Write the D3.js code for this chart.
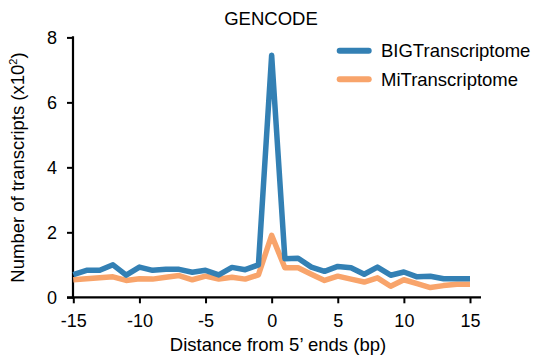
<!DOCTYPE html>
<html><head><meta charset="utf-8">
<script src="https://cdn.jsdelivr.net/npm/d3@7"></script>
<style>body{margin:0;background:#fff}svg{display:block;font-family:"Liberation Sans",Arial,sans-serif}</style>
</head><body><svg id="c" width="533" height="358"></svg>
<script>
const positions = [-15,-14,-13,-12,-11,-10,-9,-8,-7,-6,-5,-4,-3,-2,-1,0,1,2,3,4,5,6,7,8,9,10,11,12,13,14,15];
const bigValues = [0.7,0.83,0.83,1.0,0.68,0.93,0.83,0.86,0.86,0.77,0.83,0.69,0.92,0.85,1.0,7.45,1.19,1.2,0.93,0.8,0.95,0.91,0.71,0.93,0.68,0.78,0.63,0.65,0.57,0.57,0.57];
const miValues = [0.54,0.57,0.6,0.63,0.52,0.57,0.56,0.62,0.67,0.54,0.65,0.56,0.62,0.56,0.69,1.91,0.91,0.91,0.71,0.52,0.65,0.56,0.47,0.6,0.34,0.54,0.42,0.3,0.36,0.4,0.4];
const seriesNames = ["BIGTranscriptome","MiTranscriptome"];
const colors = ["#3380b4","#f8a46b"];
const xTicks = [-15,-10,-5,0,5,10,15];
const yTicks = [0,2,4,6,8];

const FONT = "'Liberation Sans',Arial,sans-serif";
const svg = d3.select("#c");
const x = d3.scaleLinear().domain([-15,15]).range([73.3,470]);
const y = d3.scaleLinear().domain([0,8]).range([297.3,37.4]);

// axes
const xa = svg.append("g").attr("transform","translate(0,297.3)")
  .call(d3.axisBottom(x).tickValues(xTicks).tickSize(6).tickSizeOuter(0));
xa.select(".domain").remove();
xa.append("line").attr("x1",67).attr("x2",481).attr("stroke","#000").attr("stroke-width",2.2);
xa.selectAll(".tick line").attr("stroke","#000").attr("stroke-width",2);
xa.selectAll(".tick text").attr("font-size",18).attr("fill","#000").attr("dy",null).attr("y",30)
  .style("font-family",FONT).text(d=>d<0?"-"+Math.abs(d):d);

const ya = svg.append("g").attr("transform","translate(73,0)")
  .call(d3.axisLeft(y).tickValues(yTicks).tickSize(6).tickSizeOuter(0));
ya.select(".domain").remove();
ya.append("line").attr("y1",36.3).attr("y2",298.4).attr("stroke","#000").attr("stroke-width",2.2);
ya.selectAll(".tick line").attr("stroke","#000").attr("stroke-width",2);
ya.selectAll(".tick text").attr("font-size",18).attr("fill","#000").attr("x",-16).attr("dy","0.34em")
  .style("font-family",FONT);

// lines
const data = [bigValues, miValues];
const line = d3.line().x((d,i)=>x(positions[i])).y(d=>y(d));
[1,0].forEach(k=>{
  svg.append("path").datum(data[k]).attr("d",line).attr("fill","none")
    .attr("stroke",colors[k]).attr("stroke-width",5.5).attr("stroke-linejoin","round");
});

// title & labels
svg.append("text").attr("x",271).attr("y",25).attr("text-anchor","middle").attr("font-size",18.5).text("GENCODE");
svg.append("text").attr("x",278).attr("y",351).attr("text-anchor","middle").attr("font-size",18.5).text("Distance from 5\u2019 ends (bp)");
const yl = svg.append("text").attr("transform","translate(24,167.5) rotate(-90)").attr("text-anchor","middle").attr("font-size",18.5);
yl.append("tspan").text("Number of transcripts (x10");
yl.append("tspan").attr("font-size",11).attr("dy",-7).text("2");
yl.append("tspan").attr("dy",7).text(")");

// legend
seriesNames.forEach((n,i)=>{
  const g = svg.append("g").attr("transform",`translate(0,${50.7+i*28.6})`);
  g.append("line").attr("x1",339.7).attr("x2",368.7).attr("stroke",colors[i]).attr("stroke-width",6).attr("stroke-linecap","round");
  g.append("text").attr("x",381).attr("y",6.5).attr("font-size",18.5).text(n);
});
</script></body></html>
